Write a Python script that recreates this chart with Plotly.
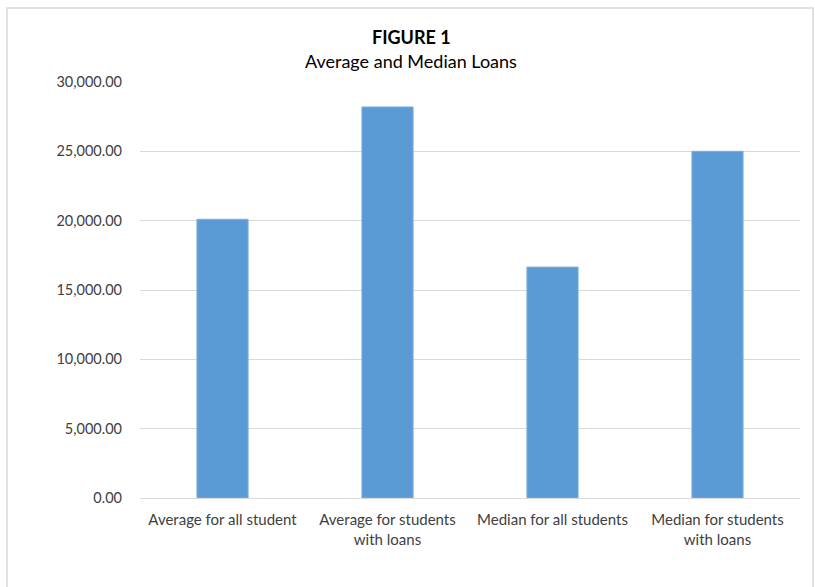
import plotly.graph_objects as go

categories = ["Average for all student", "Average for students<br>with loans",
              "Median for all students", "Median for students<br>with loans"]
values = [20100, 28200, 16650, 25000]
tick_vals = [0, 5000, 10000, 15000, 20000, 25000, 30000]

FONT = "Lato, sans-serif"

fig = go.Figure(go.Bar(x=categories, y=values, marker=dict(color="#5B9BD5",
                                                             line=dict(color="#7aaede", width=1))))

L, R, T, B = 140, 15, 82, 89
W, H = 815, 587
pw, ph = W - L - R, H - T - B

def px_x(p):
    return (p - L) / pw

def px_y(p):
    return (H - B - p) / ph

fig.update_layout(
    width=W, height=H,
    margin=dict(l=L, r=R, t=T, b=B),
    paper_bgcolor="white", plot_bgcolor="white",
    bargap=0.69,
    showlegend=False,
    font=dict(family=FONT, size=15, color="#404040"),
    xaxis=dict(showgrid=False, showline=True, linecolor="#d9d9d9", linewidth=1,
               ticks="", ticklabelstandoff=8,
               tickfont=dict(size=15, color="#404040", family=FONT)),
    yaxis=dict(range=[0, 30000], tickvals=tick_vals, tickformat=",.2f",
               showgrid=True, gridcolor="#d9d9d9", gridwidth=1, zeroline=False,
               showline=False, ticks="", ticklabelstandoff=17,
               tickfont=dict(size=14.5, color="#404040", family=FONT)),
    shapes=[dict(type="rect", xref="paper", yref="paper",
                 x0=px_x(7), x1=px_x(813), y0=px_y(595), y1=px_y(8),
                 line=dict(color="#d9d9d9", width=1.5), fillcolor="rgba(0,0,0,0)", layer="below")],
    annotations=[
        dict(text="<b>FIGURE 1</b>", xref="paper", yref="paper", x=px_x(411), y=px_y(37),
             showarrow=False, font=dict(size=18, color="#000000", family=FONT),
             xanchor="center", yanchor="middle"),
        dict(text="Average and Median Loans", xref="paper", yref="paper", x=px_x(411), y=px_y(61),
             showarrow=False, font=dict(size=18, color="#000000", family=FONT),
             xanchor="center", yanchor="middle"),
    ],
)

fig.write_html("out.html", config={"displayModeBar": False},
               post_script="document.body.style.margin='0';")
